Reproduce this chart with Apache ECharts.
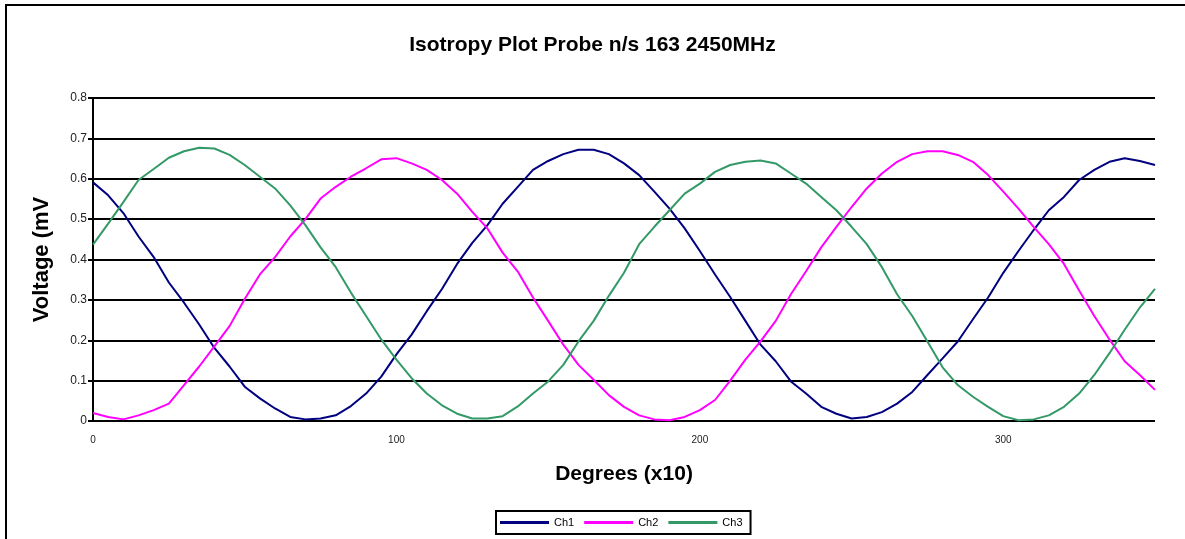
<!DOCTYPE html>
<html>
<head>
<meta charset="utf-8">
<script src="https://cdn.jsdelivr.net/npm/echarts@6/dist/echarts.min.js"></script>
<style>
html,body{margin:0;padding:0;background:#fff;}
#chart{width:1185px;height:539px;}
</style>
</head>
<body>
<div id="chart"></div>
<script>
const degrees = [0,5,10,15,20,25,30,35,40,45,50,55,60,65,70,75,80,85,90,95,100,105,110,115,120,125,130,135,140,145,150,155,160,165,170,175,180,185,190,195,200,205,210,215,220,225,230,235,240,245,250,255,260,265,270,275,280,285,290,295,300,305,310,315,320,325,330,335,340,345,350];
const ch1 = [0.591,0.559,0.515,0.457,0.406,0.343,0.293,0.239,0.181,0.135,0.085,0.056,0.031,0.010,0.004,0.006,0.014,0.037,0.068,0.110,0.165,0.214,0.272,0.327,0.389,0.441,0.485,0.538,0.580,0.622,0.644,0.661,0.672,0.672,0.661,0.638,0.609,0.568,0.526,0.477,0.421,0.363,0.307,0.248,0.189,0.148,0.098,0.068,0.035,0.018,0.006,0.010,0.022,0.043,0.072,0.114,0.155,0.197,0.252,0.306,0.367,0.421,0.473,0.522,0.555,0.597,0.622,0.642,0.651,0.644,0.634];
const ch2 = [0.020,0.010,0.004,0.014,0.027,0.043,0.089,0.135,0.185,0.235,0.302,0.363,0.406,0.457,0.500,0.551,0.580,0.605,0.626,0.648,0.651,0.638,0.622,0.597,0.563,0.518,0.477,0.417,0.370,0.306,0.248,0.189,0.139,0.102,0.064,0.035,0.014,0.004,0.002,0.010,0.027,0.052,0.100,0.152,0.197,0.248,0.314,0.371,0.430,0.481,0.530,0.576,0.613,0.642,0.661,0.668,0.668,0.659,0.642,0.609,0.568,0.526,0.481,0.438,0.389,0.323,0.260,0.202,0.148,0.114,0.077];
const ch3 = [0.437,0.489,0.542,0.597,0.624,0.652,0.668,0.677,0.675,0.659,0.634,0.605,0.576,0.534,0.485,0.430,0.381,0.318,0.260,0.202,0.152,0.106,0.068,0.039,0.018,0.006,0.006,0.012,0.036,0.068,0.098,0.139,0.197,0.248,0.310,0.367,0.438,0.481,0.522,0.563,0.588,0.617,0.634,0.642,0.645,0.638,0.613,0.588,0.555,0.522,0.481,0.438,0.381,0.314,0.260,0.197,0.133,0.089,0.060,0.035,0.012,0.002,0.004,0.014,0.035,0.068,0.114,0.168,0.226,0.281,0.327];
const seriesNames = ['Ch1','Ch2','Ch3'];
const seriesColors = ['#000080','#FF00FF','#339966'];

const pair = (arr) => degrees.map((d,i) => [d, arr[i]]);
const FONT = '"Liberation Sans", Arial, sans-serif';

const chart = echarts.init(document.getElementById('chart'), null, {renderer:'canvas'});
chart.setOption({
  animation: false,
  backgroundColor: '#fff',
  title: {
    text: 'Isotropy Plot Probe n/s 163 2450MHz',
    left: 'center', top: 30,
    textStyle: {fontFamily: FONT, fontWeight: 'bold', fontSize: 21, color: '#000'}
  },
  graphic: [{
    type: 'rect', silent: true, z: -1,
    shape: {x: 6, y: 5, width: 1190, height: 545},
    style: {fill: 'none', stroke: '#000', lineWidth: 2}
  }],
  legend: {
    data: seriesNames,
    left: 496, top: 511,
    orient: 'horizontal',
    icon: 'rect',
    itemWidth: 49, itemHeight: 3, itemGap: 10,
    padding: [6, 8, 6, 4],
    borderColor: '#000', borderWidth: 2,
    textStyle: {fontFamily: FONT, fontSize: 11, color: '#000'}
  },
  grid: {left: 93, right: 30, top: 98, bottom: 118, containLabel: false},
  xAxis: {
    type: 'value', min: 0, max: 350, interval: 100,
    name: 'Degrees (x10)', nameLocation: 'middle', nameGap: 43,
    nameTextStyle: {fontFamily: FONT, fontWeight: 'bold', fontSize: 21, color: '#000'},
    axisLine: {show: false},
    axisTick: {show: false},
    splitLine: {show: false},
    axisLabel: {fontFamily: FONT, fontSize: 10, color: '#222', margin: 14, showMaxLabel: false}
  },
  yAxis: {
    type: 'value', min: 0, max: 0.8, interval: 0.1,
    name: 'Voltage (mV', nameLocation: 'middle', nameGap: 40, nameRotate: 90,
    nameTextStyle: {fontFamily: FONT, fontWeight: 'bold', fontSize: 22, color: '#000'},
    axisLine: {show: true, lineStyle: {color: '#000', width: 2}},
    axisTick: {show: true, length: 5, lineStyle: {color: '#000', width: 2}},
    splitLine: {show: true, lineStyle: {color: '#000', width: 2}},
    axisLabel: {fontFamily: FONT, fontSize: 12, color: '#222', margin: 6}
  },
  series: [ch1, ch2, ch3].map((arr, i) => ({
    name: seriesNames[i],
    type: 'line',
    data: pair(arr),
    showSymbol: false,
    symbol: 'none',
    smooth: false,
    lineStyle: {color: seriesColors[i], width: 2},
    itemStyle: {color: seriesColors[i]}
  }))
});
</script>
</body>
</html>
